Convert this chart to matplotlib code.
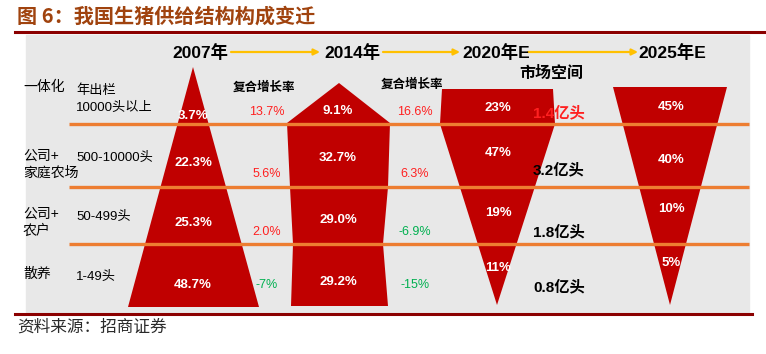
import matplotlib
matplotlib.use('Agg')
import matplotlib.pyplot as plt
from matplotlib import font_manager
from matplotlib.patches import Polygon, Rectangle

# fonts: narrow latin + CJK fallback
names = {f.name for f in font_manager.fontManager.ttflist}
latin = 'Liberation Sans Narrow' if 'Liberation Sans Narrow' in names else 'Liberation Sans'
FONT = [latin, 'Noto Sans CJK SC', 'DejaVu Sans']
CJK = ['Noto Sans CJK SC', 'DejaVu Sans']
plt.rcParams['font.family'] = FONT

# data
title = '图 6：我国生猪供给结构构成变迁'
source = '资料来源：招商证券'
years = ['2007年', '2014年', '2020年E', '2025年E']
tiers = ['一体化', '公司+\n家庭农场', '公司+\n农户', '散养']
sizes = ['年出栏\n10000头以上', '500-10000头', '50-499头', '1-49头']
shares = [
    ['3.7%', '22.3%', '25.3%', '48.7%'],
    ['9.1%', '32.7%', '29.0%', '29.2%'],
    ['23%', '47%', '19%', '11%'],
    ['45%', '40%', '10%', '5%'],
]
growth_07_14 = ['13.7%', '5.6%', '2.0%', '-7%']
growth_14_20 = ['16.6%', '6.3%', '-6.9%', '-15%']
market_space = ['1.4亿头', '3.2亿头', '1.8亿头', '0.8亿头']

# layout (pixel space)
W, H = 766, 354
row_lines = [124, 187, 244]
col_x = [193, 338, 498, 671]
year_x = [200, 352, 496, 672]
year_y = 53
share_y = [
    [116, 163, 223, 285],
    [111, 158, 220, 282],
    [108, 153, 213, 268],
    [107, 160, 209, 263],
]
growth_y = [112, 174, 232, 285]
market_y = [113, 170, 232, 287]
shapes = [
    [(193, 67), (259, 307), (128, 307)],
    [(339, 83), (390, 123), (388, 187), (383, 244), (388, 306),
     (291, 306), (293, 244), (290, 187), (287, 123)],
    [(442, 89), (553, 89), (555, 124), (497, 305), (440, 124)],
    [(613, 87), (727, 87), (670, 305)],
]

RED = '#C00000'
ORANGE = '#ED7D31'
DARK = '#8B0000'
GOLD = '#FFC000'
UP = '#FF2020'
DOWN = '#00B050'

fig = plt.figure(figsize=(W / 100, H / 100), dpi=100)
ax = fig.add_axes([0, 0, 1, 1])
ax.set_xlim(0, W)
ax.set_ylim(H, 0)
ax.axis('off')

# frame
ax.add_patch(Rectangle((26, 35), 723, 277, color='#E8E8E8', zorder=0))
ax.plot([15, 766], [32, 32], color=DARK, lw=2.2, zorder=1)
ax.plot([15, 752], [314, 314], color=DARK, lw=2.2, zorder=1)
ax.text(17, 16, title, fontsize=14.5, fontweight='bold', color='#A0430E',
        family=CJK, va='center', ha='left')
ax.text(17, 327, source, fontsize=12, color='#2A2A2A', family=CJK,
        va='center', ha='left')

# funnels
for pts in shapes:
    ax.add_patch(Polygon(pts, closed=True, color=RED, zorder=2, lw=0))
for y in row_lines:
    ax.plot([69, 749], [y, y], color=ORANGE, lw=2.4, zorder=3,
            solid_capstyle='butt')

# years and arrows
for x, label in zip(year_x, years):
    ax.text(x, year_y, label, fontsize=12.5, fontweight='bold',
            ha='center', va='center', zorder=4)
for x0, x1 in [(231, 320), (383, 460), (528, 638)]:
    ax.annotate('', xy=(x1, 52), xytext=(x0, 52),
                arrowprops=dict(arrowstyle='-|>', color=GOLD, lw=1.6,
                                mutation_scale=9, shrinkA=0, shrinkB=0))

# shares inside funnels
for x, vals, ys in zip(col_x, shares, share_y):
    for v, y in zip(vals, ys):
        ax.text(x, y, v, fontsize=9.5, fontweight='bold', color='white',
                ha='center', va='center', zorder=5)

# growth columns
for cx, hy, vals in [(264, 87, growth_07_14), (412, 84, growth_14_20)]:
    ax.text(cx, hy, '复合增长率', fontsize=9, fontweight='bold', family=CJK,
            ha='center', va='center', zorder=4)
    for v, y in zip(vals, growth_y):
        col = DOWN if v.startswith('-') else UP
        ax.text(cx + 3, y, v, fontsize=9, color=col, ha='center',
                va='center', zorder=4)

# market space
ax.text(551, 73, '市场空间', fontsize=11.5, fontweight='bold', family=CJK,
        ha='center', va='center', zorder=4)
for i, (v, y) in enumerate(zip(market_space, market_y)):
    ax.text(533, y, v, fontsize=11, fontweight='bold',
            color=UP if i == 0 else 'black', ha='left', va='center', zorder=4)

# row labels
tier_y = [87, 164, 222, 274]
size_y = [99, 158, 217, 277]
for t, s, ty, sy in zip(tiers, sizes, tier_y, size_y):
    ax.text(23, ty, t, fontsize=10, ha='left', va='center',
            linespacing=1.3, zorder=4)
    ax.text(76, sy, s, fontsize=9.5, ha='left', va='center',
            linespacing=1.5, zorder=4)

fig.savefig('out.png', dpi=100)
